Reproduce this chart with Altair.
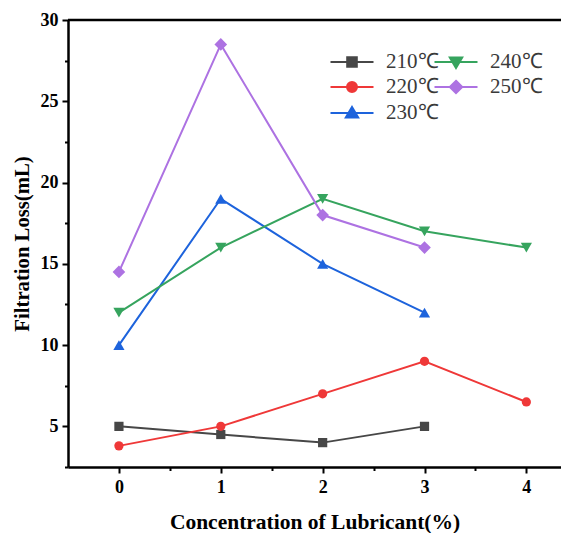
import altair as alt
import pandas as pd

# ---- data ----
concentration = [0, 1, 2, 3, 4]
series_names = ["210℃", "220℃", "230℃", "240℃", "250℃"]
loss_210 = [5.0, 4.5, 4.0, 5.0]
loss_220 = [3.8, 5.0, 7.0, 9.0, 6.5]
loss_230 = [10.0, 19.0, 15.0, 12.0]
loss_240 = [12.0, 16.0, 19.0, 17.0, 16.0]
loss_250 = [14.5, 28.5, 18.0, 16.0]

x_ticks = [0, 0.5, 1, 1.5, 2, 2.5, 3, 3.5, 4]
y_ticks = [2.5, 5, 7.5, 10, 12.5, 15, 17.5, 20, 22.5, 25, 27.5, 30]

# ---- styling ----
colors = {"210℃": "#474747", "220℃": "#ef3838", "230℃": "#1d63dc",
          "240℃": "#36a45e", "250℃": "#ad72e2"}
shapes = {"210℃": "square", "220℃": "circle", "230℃": "triangle-up",
          "240℃": "triangle-down", "250℃": "diamond"}
sizes = {"210℃": 85, "220℃": 85, "230℃": 125, "240℃": 125, "250℃": 160}
L = "M-2.15,0H2.15"
legend_paths = {
    "210℃": L + "M-0.48,-0.48H0.48V0.48H-0.48Z",
    "220℃": L + "M-0.5,0A0.5,0.5,0,1,0,0.5,0A0.5,0.5,0,1,0,-0.5,0Z",
    "230℃": L + "M0,-0.6L0.62,0.45H-0.62Z",
    "240℃": L + "M0,0.6L0.62,-0.45H-0.62Z",
    "250℃": L + "M0,-0.62L0.62,0L0,0.62L-0.62,0Z",
}

all_values = [loss_210, loss_220, loss_230, loss_240, loss_250]
rows = []
for name, vals in zip(series_names, all_values):
    for c, v in zip(concentration, vals):
        rows.append({"series": name, "conc": c, "loss": v})
df = pd.DataFrame(rows)

FONT = "Liberation Serif"

x_enc = alt.X(
    "conc:Q",
    scale=alt.Scale(domain=[-0.5, 4.34], nice=False, zero=False),
    axis=alt.Axis(
        values=x_ticks,
        format="~g",
        labelExpr="datum.value % 1 === 0 ? datum.label : ''",
        tickSize={"condition": {"test": "datum.value % 1 === 0", "value": 6}, "value": 3.5},
        title="Concentration of Lubricant(%)",
    ),
)
y_enc = alt.Y(
    "loss:Q",
    scale=alt.Scale(domain=[2.5, 30], nice=False, zero=False),
    axis=alt.Axis(
        values=y_ticks,
        format="~g",
        labelExpr="datum.value % 5 === 0 ? datum.label : ''",
        tickSize={"condition": {"test": "datum.value % 5 === 0", "value": 6}, "value": 3.5},
        title="Filtration Loss(mL)",
    ),
)

leg = alt.Legend(
    title=None, orient="none", legendX=273, legendY=31, columns=2,
    columnPadding=-9, rowPadding=4, padding=0,
    symbolSize=400, symbolStrokeWidth=2,
    labelFont=FONT, labelFontSize=21, labelColor="#3a3a3a",
    labelOffset=23,
)

lines = alt.Chart(df).mark_line(strokeWidth=2).encode(
    x=x_enc,
    y=y_enc,
    color=alt.Color(
        "series:N",
        scale=alt.Scale(domain=series_names, range=[colors[s] for s in series_names]),
        legend=leg,
    ),
    shape=alt.Shape(
        "series:N",
        scale=alt.Scale(domain=series_names, range=[legend_paths[s] for s in series_names]),
        legend=leg,
    ),
)

point_layers = []
for name in series_names:
    point_layers.append(
        alt.Chart(df)
        .transform_filter(alt.datum.series == name)
        .mark_point(filled=True, shape=shapes[name], size=sizes[name],
                    color=colors[name], opacity=1)
        .encode(x=x_enc, y=y_enc)
    )

top_border = alt.Chart(pd.DataFrame({"a": [0]})).mark_rule(
    color="black", strokeWidth=2.5
).encode(y=alt.value(0))

chart = (
    alt.layer(lines, *point_layers, top_border)
    .properties(
        width=493, height=447,
        padding={"left": 60, "top": 12, "right": 0, "bottom": 66},
        autosize=alt.AutoSizeParams(type="none"),
    )
    .configure_view(strokeWidth=0)
    .configure_axis(
        grid=False,
        domainColor="black", domainWidth=2.5,
        tickColor="black", tickWidth=2,
        labelFont=FONT, labelFontSize=18, labelFontWeight="bold", labelColor="black",
        titleFont=FONT, titleFontWeight="bold", titleColor="black",
    )
    .configure_axisX(labelPadding=5, titlePadding=15, titleFontSize=21.5)
    .configure_axisY(labelPadding=4, titlePadding=8, titleFontSize=20.7)
)

chart.save("out.html", embed_options={"renderer": "svg", "actions": False})
